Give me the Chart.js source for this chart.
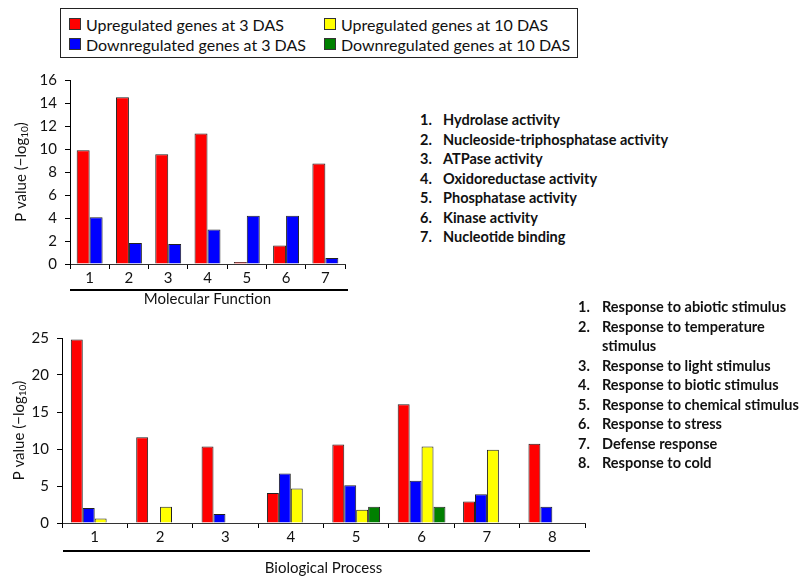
<!DOCTYPE html>
<html>
<head>
<meta charset="utf-8">
<script src="https://cdn.jsdelivr.net/npm/chart.js@4.4.1/dist/chart.umd.min.js"></script>
<style>
    body { margin: 0; width: 804px; height: 577px; background: #fff; position: relative; overflow: hidden; font-family: Lato, 'Open Sans', sans-serif; color: #111; }
    canvas { position: absolute; left: 0; }
    #legend { position: absolute; left: 60px; top: 8px; width: 518px; height: 50px; border: 1px solid #222; box-sizing: border-box;
        display: grid; grid-template-columns: 255px 1fr; grid-template-rows: 20px 20px; grid-auto-flow: column; padding: 5px 0 0 8px; font-size: 16px; }
    .leg-item { display: flex; align-items: center; white-space: nowrap; }
    .swatch { width: 12px; height: 12px; border: 1px solid #333; margin-right: 5px; box-sizing: border-box; }
    .terms { position: absolute; font-weight: 700; font-size: 14.5px; line-height: 19.5px; z-index: 2; }
    .terms .row { display: flex; }
    .terms .num { flex: 0 0 auto; }
</style>
</head>
<body>
<div id="legend"></div>
<div id="mfTerms" class="terms" style="left:420px; top:110px;"></div>
<div id="bpTerms" class="terms" style="left:578px; top:297px;"></div>
<canvas id="mfChart" width="370" height="255" style="top:60px;"></canvas>
<canvas id="bpChart" width="600" height="262" style="top:315px;"></canvas>

<script>
const seriesNames = ['Upregulated genes at 3 DAS', 'Downregulated genes at 3 DAS', 'Upregulated genes at 10 DAS', 'Downregulated genes at 10 DAS'];
const seriesColors = ['#ff0000', '#0000ff', '#ffff00', '#008000'];

// Molecular Function panel
const mfCategories = ['1', '2', '3', '4', '5', '6', '7'];
const mfUp3 = [9.9, 14.5, 9.55, 11.35, 0.17, 1.6, 8.75];
const mfDown3 = [4.07, 1.82, 1.73, 3.0, 4.2, 4.2, 0.52];
const mfYTicks = [0, 2, 4, 6, 8, 10, 12, 14, 16];
const mfTerms = ['Hydrolase activity', 'Nucleoside-triphosphatase activity', 'ATPase activity', 'Oxidoreductase activity',
    'Phosphatase activity', 'Kinase activity', 'Nucleotide binding'];

// Biological Process panel
const bpCategories = ['1', '2', '3', '4', '5', '6', '7', '8'];
const bpUp3 = [24.8, 11.6, 10.35, 4.05, 10.6, 16.05, 2.9, 10.7];
const bpDown3 = [2.03, null, 1.22, 6.7, 5.1, 5.72, 3.87, 2.2];
const bpUp10 = [0.6, 2.2, null, 4.65, 1.8, 10.35, 9.9, null];
const bpDown10 = [null, null, null, null, 2.2, 2.2, null, null];
const bpYTicks = [0, 5, 10, 15, 20, 25];
const bpTerms = ['Response to abiotic stimulus', 'Response to temperature stimulus', 'Response to light stimulus',
    'Response to biotic stimulus', 'Response to chemical stimulus', 'Response to stress', 'Defense response', 'Response to cold'];

const tickFont = { family: 'Lato', size: 15 };

function buildLegend() {
    const box = document.getElementById('legend');
    seriesNames.forEach((name, i) => {
        const item = document.createElement('div');
        item.className = 'leg-item';
        item.innerHTML = `<span class="swatch" style="background:${seriesColors[i]}"></span>${name}`;
        box.appendChild(item);
    });
}

function buildTerms(id, terms, textWidth) {
    const box = document.getElementById(id);
    terms.forEach((t, i) => {
        const row = document.createElement('div');
        row.className = 'row';
        row.innerHTML = `<span class="num" style="width:${id === 'mfTerms' ? 23 : 24}px">${i + 1}.</span><span style="width:${textWidth}px">${t}</span>`;
        box.appendChild(row);
    });
}

// draws the axis underline, x title and the y title with a subscript
const decor = {
    id: 'decor',
    afterDraw(chart, args, opts) {
        const { ctx, chartArea } = chart;
        ctx.save();
        ctx.fillStyle = '#000';
        ctx.fillRect(opts.lineX0, chartArea.bottom + opts.lineGap, opts.lineX1 - opts.lineX0, 2);

        ctx.fillStyle = '#111';
        ctx.font = '15px Lato';
        ctx.textAlign = 'center';
        ctx.textBaseline = 'middle';
        ctx.fillText(opts.xTitle, (chartArea.left + chartArea.right) / 2 + opts.xShift, chartArea.bottom + opts.titleGap);

        ctx.translate(opts.yTitleX, (chartArea.top + chartArea.bottom) / 2);
        ctx.rotate(-Math.PI / 2);
        ctx.textAlign = 'left';
        const main = 'P value (\u2212log', sub = '10', tail = ')';
        ctx.font = '15px Lato';
        const wMain = ctx.measureText(main).width, wTail = ctx.measureText(tail).width;
        ctx.font = '10px Lato';
        const wSub = ctx.measureText(sub).width;
        let x = -(wMain + wSub + wTail) / 2;
        ctx.font = '15px Lato';
        ctx.fillText(main, x, 0);
        x += wMain;
        ctx.font = '10px Lato';
        ctx.fillText(sub, x, 4);
        x += wSub;
        ctx.font = '15px Lato';
        ctx.fillText(tail, x, 0);
        ctx.restore();
    }
};

function makeChart(id, labels, series, yTicks, cfg) {
    const datasets = series.map((data, i) => ({
        label: seriesNames[i],
        data: data,
        backgroundColor: seriesColors[i],
        borderColor: '#222',
        borderWidth: 1,
        categoryPercentage: cfg.catPct,
        barPercentage: 1.0
    }));

    return new Chart(document.getElementById(id), {
        type: 'bar',
        data: { labels, datasets },
        plugins: [decor],
        options: {
            responsive: false,
            animation: false,
            devicePixelRatio: 1,
            layout: { padding: { top: cfg.padTop, right: cfg.padRight, left: 0, bottom: 0 } },
            plugins: {
                legend: { display: false },
                tooltip: { enabled: false },
                decor: cfg.decor
            },
            scales: {
                x: {
                    ticks: { font: tickFont, color: '#111', padding: 0 },
                    grid: { drawOnChartArea: false, tickLength: 5, color: '#000', offset: true },
                    border: { color: '#333' },
                    afterFit(s) { s.height = cfg.xHeight; }
                },
                y: {
                    min: yTicks[0],
                    max: yTicks[yTicks.length - 1],
                    afterBuildTicks(s) { s.ticks = yTicks.map(v => ({ value: v })); },
                    ticks: { font: tickFont, color: '#111', padding: 8 },
                    grid: { drawOnChartArea: false, tickLength: 5, color: '#000' },
                    border: { color: '#000' },
                    afterFit(s) { s.width = cfg.yWidth; }
                }
            }
        }
    });
}

buildLegend();
buildTerms('mfTerms', mfTerms, 260);
buildTerms('bpTerms', bpTerms, 202);

makeChart('mfChart', mfCategories, [mfUp3, mfDown3], mfYTicks, {
    catPct: 0.66, padTop: 20, padRight: 25, xHeight: 51, yWidth: 70,
    decor: { lineX0: 70, lineX1: 348, lineGap: 25, titleGap: 35, xTitle: 'Molecular Function', xShift: 0, yTitleX: 21 }
});

makeChart('bpChart', bpCategories, [bpUp3, bpDown3, bpUp10, bpDown10], bpYTicks, {
    catPct: 0.73, padTop: 23, padRight: 15, xHeight: 54, yWidth: 62,
    decor: { lineX0: 63, lineX1: 590, lineGap: 27, titleGap: 45, xTitle: 'Biological Process', xShift: 0, yTitleX: 19 }
});
</script>
</body>
</html>
